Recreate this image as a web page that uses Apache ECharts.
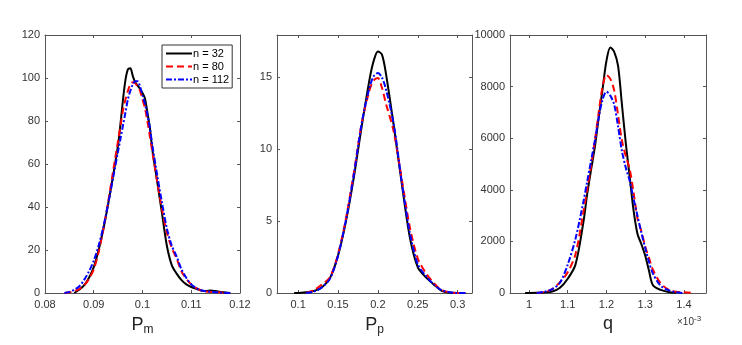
<!DOCTYPE html>
<html>
<head>
    <meta charset="utf-8">
    <title>Density estimates</title>
    <script src="https://cdn.jsdelivr.net/npm/echarts@6/dist/echarts.min.js"></script>
    <style>
        body { margin: 0; background: #fff; }
        #main { width: 742px; height: 345px; }
    </style>
</head>
<body>
<div id="main"></div>
<script type="text/javascript">
    // sample sizes
    var names = ['n = 32', 'n = 80', 'n = 112'];

    // panel 1: P_m
    var X1 = [0.084, 0.085, 0.086, 0.087, 0.088, 0.089, 0.090, 0.091, 0.092, 0.093, 0.094, 0.095, 0.0955, 0.096, 0.0965,
        0.097, 0.0975, 0.098, 0.0985, 0.099, 0.0995, 0.100, 0.1005, 0.101, 0.1015, 0.102, 0.103, 0.104, 0.105, 0.106,
        0.107, 0.108, 0.109, 0.110, 0.111, 0.112, 0.113, 0.114, 0.115, 0.116, 0.117, 0.118];
    var PM_32 = [null, null, 0, 1.5, 3.5, 7, 12, 20, 30, 42, 55, 69, 79, 90, 99,
        104, 104.5, 101, 98, 96.5, 95, 93, 90.5, 84, 77, 67, 52, 37, 22, 13,
        9, 6, 4, 2.8, 2, 1.2, 0.9, 1.2, 0.9, 0.5, 0.2, 0];
    var PM_80 = [0, 0.3, 0.8, 1.8, 3.5, 6.5, 11, 19, 30, 43, 57, 71, 78, 85, 90,
        94, 97, 98, 97.5, 96, 94, 90, 86, 80, 73, 66, 52, 39, 28, 21,
        16, 10, 6.5, 4, 2.3, 1.3, 0.7, 0.5, 0.4, 0.2, 0.1, 0];
    var PM_112 = [0, 0.5, 1.5, 3, 6, 10, 15, 22, 31, 42, 54, 66, 72, 78, 84,
        90, 94, 97, 98.5, 98.5, 96, 92, 88, 83, 77, 69, 55, 42, 30, 22,
        17, 11, 7, 4, 2.3, 1.3, 0.8, 0.6, 0.4, 0.2, 0.1, 0];

    // panel 2: P_p
    var X2 = [0.095, 0.10, 0.11, 0.12, 0.13, 0.14, 0.15, 0.16, 0.17, 0.18, 0.19, 0.195, 0.20, 0.205, 0.21,
        0.22, 0.23, 0.24, 0.25, 0.26, 0.27, 0.28, 0.29, 0.30, 0.31];
    var PP_32 = [0, 0, 0.05, 0.15, 0.4, 1.05, 2.6, 5.0, 8.1, 11.7, 15.0, 16.2, 16.8, 16.6, 15.3,
        11.6, 7.6, 3.9, 1.8, 1.1, 0.6, 0.15, 0.03, 0, null];
    var PP_80 = [null, null, 0, 0.2, 0.6, 1.1, 2.7, 5.2, 8.4, 11.9, 14.2, 14.8, 14.95, 14.3, 13.2,
        11.2, 7.9, 4.6, 2.4, 1.4, 0.7, 0.2, 0.05, 0, 0];
    var PP_112 = [null, null, 0, 0.1, 0.4, 1.0, 2.6, 5.1, 8.3, 11.9, 14.4, 15.1, 15.3, 15.0, 14.2,
        11.7, 7.7, 4.2, 2.0, 1.2, 0.6, 0.2, 0.05, 0, 0];

    // panel 3: q (x in units of 1e-3)
    var X3 = [0.99, 1.00, 1.02, 1.04, 1.06, 1.08, 1.10, 1.12, 1.14, 1.15, 1.16, 1.17, 1.18, 1.19, 1.20, 1.21,
        1.22, 1.23, 1.24, 1.25, 1.26, 1.27, 1.28, 1.29, 1.30, 1.31, 1.32, 1.34, 1.36, 1.38, 1.40, 1.42];
    var Q_32 = [0, 0, 5, 20, 55, 200, 550, 1100, 2700, 3800, 4750, 5650, 6800, 7900, 9000, 9520,
        9350, 8800, 7300, 5800, 4500, 3200, 2300, 1900, 1450, 850, 300, 120, 40, 5, null, null];
    var Q_80 = [null, null, 0, 40, 150, 420, 800, 1500, 3100, 4000, 4900, 5900, 7000, 8000, 8450, 8300,
        7850, 6900, 5900, 5300, 4800, 3900, 2900, 2400, 1800, 1350, 900, 380, 130, 50, 30, 10];
    var Q_112 = [null, null, 0, 50, 150, 400, 1100, 2100, 3500, 4300, 5100, 5900, 6800, 7500, 7800, 7650,
        7300, 6450, 5500, 4850, 4350, 3650, 3000, 2350, 1750, 1200, 750, 280, 110, 30, 0, null];

    // tick labels
    var X1_TICKS = [0.08, 0.09, 0.1, 0.11, 0.12];
    var X2_TICKS = [0.1, 0.15, 0.2, 0.25, 0.3];
    var X3_TICKS = [1, 1.1, 1.2, 1.3, 1.4];
    var Y1_TICKS = [0, 20, 40, 60, 80, 100, 120];
    var Y2_TICKS = [0, 5, 10, 15];
    var Y3_TICKS = [0, 2000, 4000, 6000, 8000, 10000];

    var font = 'Liberation Sans, Arial, Helvetica, sans-serif';
    var axisColor = '#555';
    var colors = ['#000000', '#ff0000', '#0000ff'];
    var lineTypes = ['solid', [7, 4], [6, 2, 2, 2]];

    var panels = [
        { left: 45, width: 195, xr: [0.08, 0.12], xt: X1_TICKS, yr: [0, 120], yt: Y1_TICKS, x: X1, ys: [PM_32, PM_80, PM_112], sym: 'P', sub: 'm' },
        { left: 277, width: 195, xr: [0.0735, 0.318], xt: X2_TICKS, yr: [0, 17.95], yt: Y2_TICKS, x: X2, ys: [PP_32, PP_80, PP_112], sym: 'P', sub: 'p' },
        { left: 510, width: 196, xr: [0.951, 1.457], xt: X3_TICKS, yr: [0, 10000], yt: Y3_TICKS, x: X3, ys: [Q_32, Q_80, Q_112], sym: 'q', sub: '' }
    ];

    var grids = [], xAxes = [], yAxes = [], series = [];

    panels.forEach(function (p, i) {
        grids.push({ left: p.left, top: 35, width: p.width, height: 258 });

        ['bottom', 'top'].forEach(function (pos) {
            var bottom = pos === 'bottom';
            xAxes.push({
                type: 'value', gridIndex: i, position: pos,
                min: p.xr[0], max: p.xr[1],
                axisLine: { show: true, onZero: false, lineStyle: { color: axisColor, width: 1 } },
                axisTick: { show: true, inside: true, length: 3, customValues: p.xt, lineStyle: { color: axisColor } },
                axisLabel: {
                    show: bottom, customValues: p.xt, color: '#333', fontSize: 11, fontFamily: font, margin: 6,
                    formatter: function (v) { return String(v); }
                },
                splitLine: { show: false },
                name: bottom ? (p.sub ? '{a|' + p.sym + '}{b|' + p.sub + '}' : '{a|' + p.sym + '}') : '',
                nameLocation: 'middle', nameGap: 22,
                nameTextStyle: {
                    rich: {
                        a: { fontSize: 18, fontFamily: font, color: '#222' },
                        b: { fontSize: 12, fontFamily: font, color: '#222', padding: [9, 0, 0, 0] }
                    }
                }
            });
        });

        ['left', 'right'].forEach(function (pos) {
            var left = pos === 'left';
            yAxes.push({
                type: 'value', gridIndex: i, position: pos,
                min: p.yr[0], max: p.yr[1],
                axisLine: { show: true, onZero: false, lineStyle: { color: axisColor, width: 1 } },
                axisTick: { show: true, inside: true, length: 3, customValues: p.yt, lineStyle: { color: axisColor } },
                axisLabel: {
                    show: left, customValues: p.yt, color: '#333', fontSize: 11, fontFamily: font, margin: 5,
                    formatter: function (v) { return String(v); }
                },
                splitLine: { show: false }
            });
        });

        p.ys.forEach(function (ys, k) {
            var pts = [];
            p.x.forEach(function (x, j) {
                if (ys[j] !== null) pts.push([x, ys[j]]);
            });
            series.push({
                name: names[k], type: 'line', xAxisIndex: i * 2, yAxisIndex: i * 2,
                data: pts, smooth: 0.3, symbol: 'none', showSymbol: false,
                lineStyle: { color: colors[k], width: 2, type: lineTypes[k] },
                itemStyle: { color: colors[k] },
                z: 3 + k,
                silent: true
            });
        });
    });

    var myChart = echarts.init(document.getElementById('main'));
    var option = {
        backgroundColor: '#fff',
        animation: false,
        grid: grids,
        xAxis: xAxes,
        yAxis: yAxes,
        legend: {
            data: names,
            left: 162, top: 45,
            orient: 'vertical',
            backgroundColor: '#fff',
            borderColor: '#333', borderWidth: 1,
            padding: [3, 3, 3, 3],
            itemGap: 2, itemWidth: 26, itemHeight: 10,
            itemStyle: { opacity: 0 },
            textStyle: { fontSize: 11, fontFamily: font, color: '#000', padding: [0, 0, 0, -4] }
        },
        graphic: [{
            type: 'text', left: 677, top: 315,
            style: {
                text: '{a|×10}{b|-3}',
                rich: {
                    a: { fontSize: 10, fontFamily: font, fill: '#333' },
                    b: { fontSize: 8, fontFamily: font, fill: '#333', padding: [0, 0, 7, 0] }
                }
            }
        }],
        series: series
    };
    myChart.setOption(option);
</script>
</body>
</html>
